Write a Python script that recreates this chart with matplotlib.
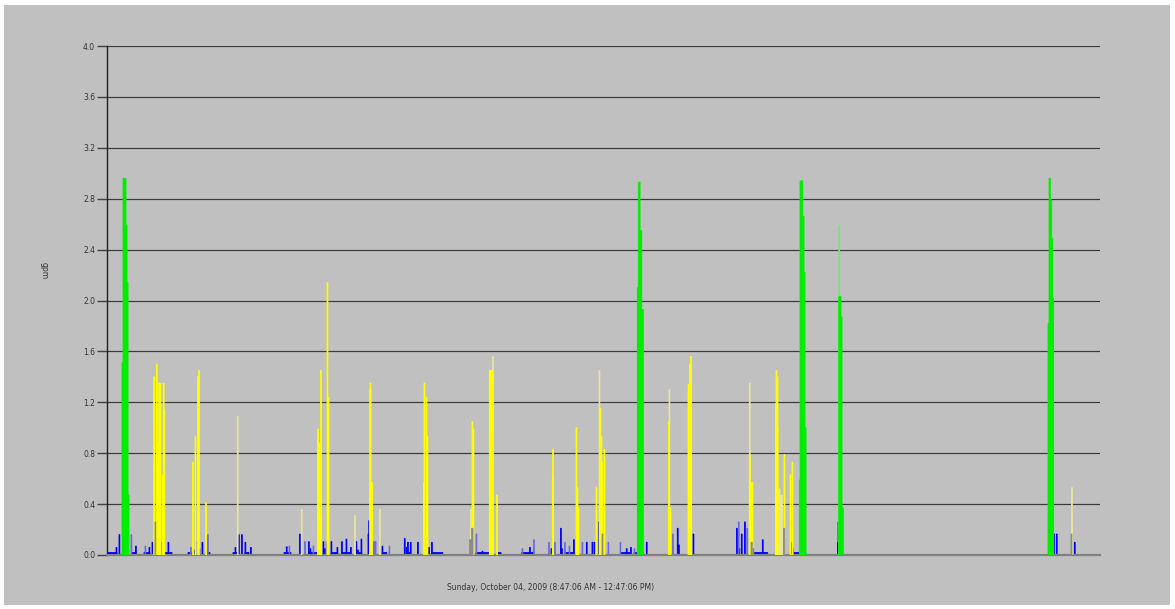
import matplotlib
matplotlib.use("Agg")
import matplotlib.pyplot as plt
from matplotlib.patches import Rectangle

# ---- data: minutes after 8:47:06 AM, duration (min), flow (gpm) ----
green_t = [3.63, 3.87, 4.59, 4.83, 5.08,
           128.17, 128.41, 128.83, 129.24,
           167.33, 167.50, 168.15, 168.46, 168.71,
           176.85, 177.41, 177.65,
           227.44, 227.68, 228.00, 228.33, 228.58]
green_dur = [0.24, 0.72, 0.24, 0.25, 0.24,
             0.24, 0.42, 0.41, 0.39,
             0.17, 0.65, 0.31, 0.25, 0.24,
             0.56, 0.24, 0.31,
             1.28, 0.32, 0.33, 0.25, 0.14]
green_v = [1.51, 2.96, 2.59, 2.14, 0.47,
           2.10, 2.93, 2.55, 1.93,
           0.59, 2.94, 2.66, 2.22, 1.00,
           2.03, 1.87, 0.37,
           1.82, 2.96, 2.79, 2.49, 2.02]
green_pale_t = [176.85]
green_pale_dur = [0.24]
green_pale_v = [2.59]

yellow_t = [11.29, 11.92, 12.16, 12.40, 12.50, 12.81, 13.41, 13.58, 13.73,
            20.67, 21.27, 21.87, 22.12, 23.81,
            50.88, 51.12, 51.24, 51.60, 53.17, 53.34, 63.49, 63.57, 63.93,
            76.50, 76.62, 77.10, 77.34,
            88.22, 88.46, 92.40, 94.14,
            107.63, 107.68, 113.36, 113.60, 113.84, 118.19, 119.16, 119.40, 119.40, 119.64, 120.12,
            135.71, 136.08, 140.43, 140.55, 140.79, 141.03,
            155.24, 155.53, 155.90, 161.58, 161.70, 161.94, 161.94, 163.63, 165.08, 165.56]
yellow_dur = [0.22, 0.22, 0.24, 0.58, 0.22, 0.22, 0.22, 0.22, 0.22,
              0.22, 0.22, 0.22, 0.22, 0.22,
              0.22, 0.22, 0.56, 0.22, 0.22, 0.31, 0.31, 0.22, 0.22,
              0.24, 0.22, 0.22, 0.22,
              0.22, 0.22, 0.89, 0.22,
              0.24, 0.22, 0.22, 0.22, 0.22, 0.22, 0.22, 0.22, 0.36, 0.22, 0.22,
              0.24, 0.22, 0.22, 0.73, 0.22, 0.22,
              0.22, 0.22, 0.22, 0.36, 0.22, 0.22, 0.24, 0.22, 0.22, 0.22]
yellow_v = [1.40, 1.50, 0.88, 0.73, 1.35, 1.35, 0.63, 1.35, 1.14,
            0.73, 0.93, 1.40, 1.45, 0.41,
            0.99, 0.88, 0.31, 1.45, 2.14, 1.24, 1.30, 1.35, 0.57,
            0.57, 1.35, 1.24, 0.93,
            1.05, 0.99, 1.45, 0.47,
            0.62, 0.83, 1.00, 0.53, 0.37, 0.53, 1.15, 0.93, 0.73, 0.57, 0.83,
            1.05, 0.37, 1.34, 0.81, 1.50, 1.56,
            0.79, 0.57, 0.57, 1.19, 1.45, 1.40, 1.00, 0.79, 0.63, 0.73]

yellow_pale_t = [31.49, 46.96, 59.82, 65.86, 87.86, 93.18, 118.92, 135.84, 155.24, 162.18, 162.66, 233.12]
yellow_pale_dur = [0.2, 0.2, 0.2, 0.2, 0.2, 0.2, 0.2, 0.2, 0.2, 0.48, 0.6, 0.2]
yellow_pale_v = [1.09, 0.36, 0.31, 0.36, 0.36, 1.56, 1.45, 1.30, 1.35, 0.52, 0.47, 0.53]

blue_t = [2.18, 2.90, 6.89, 10.15, 10.88, 13.29, 14.74, 20.91, 22.24, 22.96,
          30.94, 31.78, 32.51, 33.35, 34.68, 43.34, 46.53, 48.70, 49.07, 52.21,
          52.57, 54.14, 55.59, 56.68, 57.77, 58.85, 60.18, 60.55, 61.39, 63.08,
          63.25, 66.47, 71.86, 72.27, 72.63, 73.31, 75.05, 77.71, 78.43, 90.64,
          102.12, 107.31, 109.61, 109.85, 112.75, 115.85, 117.22, 117.71, 118.79, 125.51,
          126.53, 130.35, 137.84, 138.13, 141.64, 152.15, 152.75, 153.31, 154.08, 158.39,
          162.42, 165.40, 176.55, 176.68, 228.77, 229.45, 233.80]
blue_v = [0.06, 0.16, 0.07, 0.06, 0.10, 0.10, 0.10, 0.04, 0.05, 0.10,
          0.06, 0.16, 0.16, 0.10, 0.06, 0.065, 0.165, 0.105, 0.05, 0.105,
          0.05, 0.105, 0.06, 0.105, 0.125, 0.06, 0.105, 0.04, 0.125, 0.165,
          0.27, 0.07, 0.13, 0.06, 0.10, 0.10, 0.10, 0.06, 0.10, 0.03,
          0.06, 0.05, 0.21, 0.05, 0.12, 0.10, 0.10, 0.10, 0.26, 0.05,
          0.06, 0.10, 0.21, 0.08, 0.165, 0.21, 0.05, 0.165, 0.26, 0.12,
          0.10, 0.10, 0.10, 0.26, 0.165, 0.165, 0.10]

blue_light_t = [5.80, 9.18, 20.18, 21.75, 24.29, 43.99, 47.74, 49.79, 52.93, 64.29,
                68.16, 89.19, 100.31, 103.09, 106.71, 108.16, 110.58, 111.67, 114.81, 121.09,
                123.99, 127.38, 136.68, 152.58, 154.64, 165.73]
blue_light_dur = [0.2, 0.2, 0.2, 0.2, 0.2, 0.2, 0.2, 0.2, 0.2, 0.73,
                  0.2, 0.2, 0.2, 0.2, 0.2, 0.2, 0.2, 0.2, 0.2, 0.2,
                  0.2, 0.2, 0.2, 0.2, 0.2, 0.2]
blue_light_v = [0.16, 0.07, 0.06, 0.10, 0.16, 0.07, 0.105, 0.07, 0.105, 0.105,
                0.07, 0.165, 0.05, 0.12, 0.10, 0.10, 0.10, 0.07, 0.10, 0.10,
                0.10, 0.05, 0.165, 0.26, 0.21, 0.05]

mixed_t = [11.60, 87.62, 88.10, 119.64, 155.65, 156.14, 163.51, 233.00]
mixed_dur = [0.2, 0.36, 0.36, 0.2, 0.3, 0.2, 0.3, 0.2]
mixed_v = [0.26, 0.12, 0.21, 0.165, 0.10, 0.05, 0.21, 0.165]

base_start = [0.00, 6.04, 8.94, 14.02, 19.58, 24.17, 30.45, 33.35, 42.78, 48.82,
              54.31, 56.80, 60.74, 66.78, 72.44, 78.48, 89.19, 94.26, 100.23, 110.77,
              124.16, 127.38, 156.14, 165.83]
base_end = [2.42, 6.77, 10.39, 15.71, 20.54, 24.89, 31.42, 34.32, 44.47, 50.76,
            55.66, 58.90, 61.56, 67.60, 73.40, 81.14, 92.33, 95.23, 103.20, 112.63,
            126.41, 128.03, 159.69, 167.33]
base_v = [0.02] * len(base_start)

yticks = [0.0, 0.4, 0.8, 1.2, 1.6, 2.0, 2.4, 2.8, 3.2, 3.6, 4.0]
xlabel = "Sunday, October 04, 2009 (8:47:06 AM - 12:47:06 PM)"
ylabel = "gpm"

# ---- figure ----
W, H = 1175, 609
fig = plt.figure(figsize=(W / 100, H / 100), dpi=100, facecolor="white")
bg = Rectangle((4 / W, 4 / H), (W - 9) / W, (H - 9) / H,
               transform=fig.transFigure, facecolor="#c0c0c0",
               edgecolor="none", zorder=-10)
fig.patches.append(bg)
ax = fig.add_axes([107 / W, (H - 555) / H, (1100 - 107) / W, (555 - 46) / H])
ax.set_zorder(1)
ax.set_facecolor("#c0c0c0")
ax.set_xlim(0, 240)
ax.set_ylim(0, 4.0)

ax.set_axisbelow(True)
ax.yaxis.grid(True, color="#3a3a3a", linewidth=0.85)
ax.xaxis.grid(False)


def draw(t, v, w, color, z):
    ax.bar(t, v, width=w, align="edge", color=color, edgecolor=color,
           linewidth=0.6, snap=False, zorder=z)


draw(base_start, base_v, [e - s for s, e in zip(base_start, base_end)], "#0000ff", 2)
draw(blue_t, blue_v, 0.2, "#0000ff", 2)
draw(blue_light_t, blue_light_v, blue_light_dur, "#6a6ae6", 2)
draw(yellow_pale_t, yellow_pale_v, yellow_pale_dur, "#e6e6a0", 3)
draw(yellow_t, yellow_v, yellow_dur, "#ffff00", 3)
draw(mixed_t, mixed_v, mixed_dur, "#8a8a8a", 4)
draw(green_pale_t, green_pale_v, green_pale_dur, "#7fe07f", 4)
draw(green_t, green_v, green_dur, "#00ee00", 5)

ax.set_yticks(yticks)
ax.set_yticklabels([f"{v:.1f}" for v in yticks])
ax.set_xticks([])
ax.tick_params(axis="y", direction="out", length=7, width=1, color="#404040",
               labelsize=5.5, labelcolor="#333333", pad=1.5)

for s in ["top", "right"]:
    ax.spines[s].set_visible(False)
ax.spines["left"].set_color("#202020")
ax.spines["left"].set_linewidth(1.0)
ax.spines["bottom"].set_color("#808080")
ax.spines["bottom"].set_linewidth(1.6)

fig.text(551 / W, (H - 587) / H, xlabel, ha="center", va="center",
         fontsize=5.5, color="#333333")
fig.text(44 / W, (H - 271) / H, ylabel, ha="center", va="center",
         rotation=270, fontsize=5.5, color="#333333")

fig.savefig("out.png", dpi=100, facecolor=fig.get_facecolor())
